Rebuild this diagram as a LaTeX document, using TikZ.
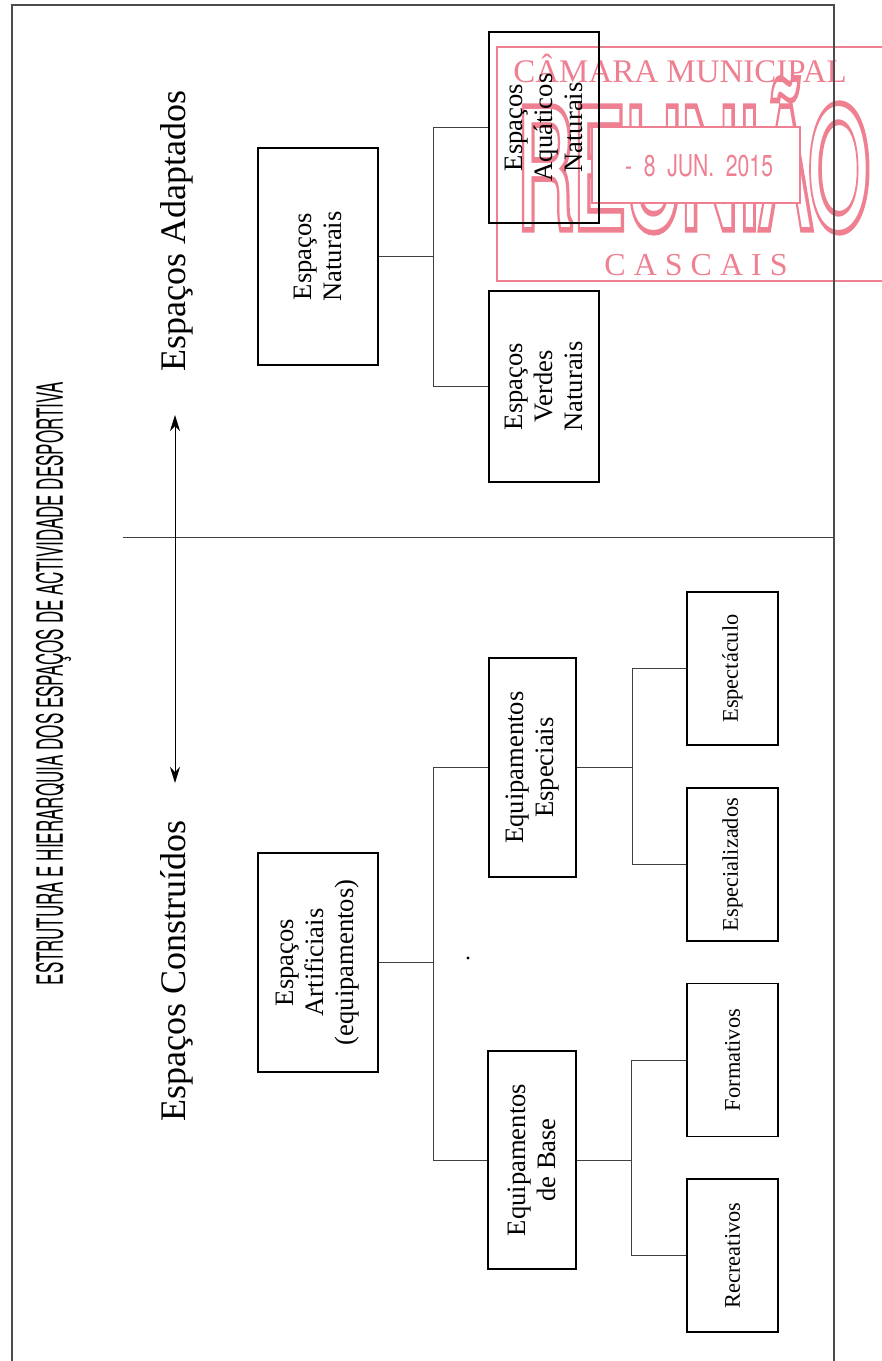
\documentclass[tikz,border=0pt]{standalone}
\usepackage{fontspec}
\setmainfont{Liberation Serif}
\newfontfamily\condfont{TeX Gyre Heros}
\newfontfamily\condbold[FakeBold=7]{TeX Gyre Heros}
\usepackage{graphicx}
\usetikzlibrary{positioning}
\usetikzlibrary{arrows.meta}

\definecolor{stampred}{RGB}{238,128,146}

\tikzset{
  box/.style={draw, rotate=90, align=center, inner sep=0pt, line width=0.7pt,
    font=\fontsize{13.3}{15}\selectfont},
  leaf/.style={box, minimum width=76.5pt, minimum height=45.5pt,
    font=\fontsize{11.2}{13}\selectfont},
  link/.style={line width=0.5pt, black!75},
  side/.style={rotate=90, font=\fontsize{18}{20}\selectfont},
  stamptext/.style={text=stampred, inner sep=0pt},
}

\begin{document}
\begin{tikzpicture}[x=0.5pt, y=-0.5pt]
\useasboundingbox (0,0) rectangle (882,1361);

% carimbo
\draw[stampred, line width=1.2pt] (882,47) -- (497,47) -- (497,281) -- (882,281);
\node[stamptext, anchor=base west] (reuniao) at (517,227) {\resizebox{176pt}{73pt}{\condbold REUNIÃO}};
\node[stamptext, text=white, anchor=base west] (reuniaoin) at (517,227) {\resizebox{176pt}{73pt}{\condfont REUNIÃO}};
\node[stamptext, anchor=base west, font=\fontsize{16.5}{18}\selectfont] (camara) at (513,82) {CÂMARA MUNICIPAL};
\node[stamptext, draw=stampred, fill=white, line width=1pt, minimum width=104pt, minimum height=38pt] (data) at (696,165) {};
\node[stamptext] (datatxt) at (699,166) {\resizebox{74pt}{11pt}{\condfont -\ \ 8\ \ JUN.\ \ 2015}};
\node[stamptext, anchor=base, font=\fontsize{16}{18}\selectfont\addfontfeatures{LetterSpace=25}] (cascais) at (696,275) {CASCAIS};

% moldura
\draw[line width=0.9pt, black!70] (12,1361) -- (12,5) -- (834,5) -- (834,1361);
\draw[link] (123,537) -- (834,537);

\node[rotate=90, inner sep=0pt] (titulo) at (53.5,683.5) {\resizebox{301.5pt}{13.5pt}{\condfont ESTRUTURA E HIERARQUIA DOS ESPAÇOS DE ACTIVIDADE DESPORTIVA}};

\node[side] (adapt) at (177,231) {Espaços Adaptados};
\node[side] (constr) at (177,971) {Espaços Construídos};
\coordinate (up) at (175,415);
\coordinate (down) at (175,783);
\draw[link, black, {Stealth[length=8pt,width=5pt,inset=2.5pt]}-{Stealth[length=8pt,width=5pt,inset=2.5pt]}] (down) -- (up);

\node[box, minimum width=108.5pt, minimum height=60pt] (nat) at (318,256.5) {Espaços\\Naturais};
\node[box, minimum width=95.5pt, minimum height=55pt] (aqua) at (544,127.5) {Espaços\\Aquáticos\\Naturais};
\node[box, minimum width=95.5pt, minimum height=55pt] (verd) at (544,386.5) {Espaços\\Verdes\\Naturais};

\node[box, minimum width=109.5pt, minimum height=60pt] (art) at (318,962.5) {Espaços\\Artificiais\\(equipamentos)};
\node[box, minimum width=109.5pt, minimum height=43.5pt] (esp) at (532.5,767.5) {Equipamentos\\Especiais};
\node[box, minimum width=109pt, minimum height=44pt] (base) at (532,1160) {Equipamentos\\de Base};

\node[leaf] (spect) at (732.5,668.5) {Espectáculo};
\node[leaf] (spec) at (732.5,864.5) {Especializados};
\node[leaf] (form) at (732.5,1060) {Formativos};
\node[leaf] (recr) at (732.5,1255.5) {Recreativos};

\coordinate (jn) at (433,256.5);
\coordinate (ja) at (433,962.5);
\coordinate (je) at (632,767.5);
\coordinate (jb) at (631,1160);

\draw[link] (nat.south) -- (jn);
\draw[link] (jn) |- (aqua.north);
\draw[link] (jn) |- (verd.north);

\draw[link] (art.south) -- (ja);
\draw[link] (ja) |- (esp.north);
\draw[link] (ja) |- (base.north);

\draw[link] (esp.south) -- (je);
\draw[link] (je) |- (spect.north);
\draw[link] (je) |- (spec.north);

\draw[link] (base.south) -- (jb);
\draw[link] (jb) |- (form.north);
\draw[link] (jb) |- (recr.north);

\fill (468,958) circle (0.8pt);
\end{tikzpicture}
\end{document}
